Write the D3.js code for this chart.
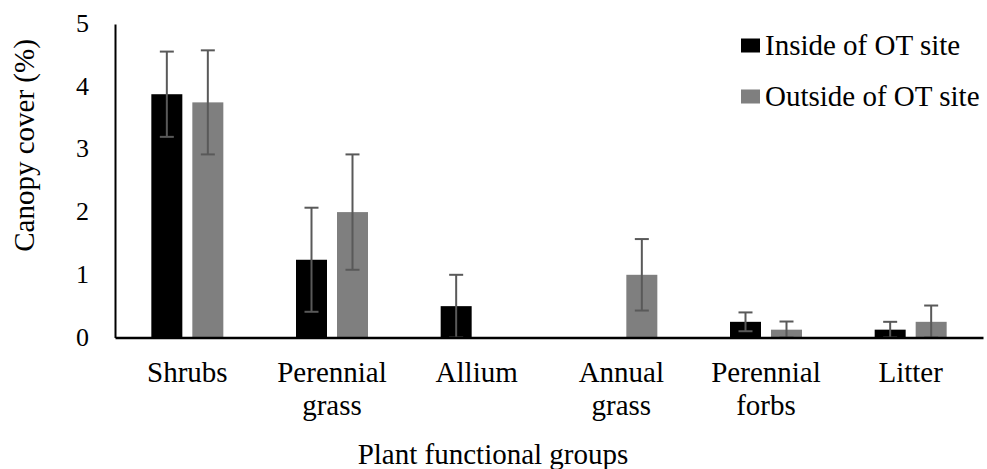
<!DOCTYPE html>
<html>
<head>
<meta charset="utf-8">
<script src="https://cdn.jsdelivr.net/npm/d3@7"></script>
<style>
  html, body { margin: 0; padding: 0; background: #fff; }
  #wrap { position: relative; width: 987px; height: 469px; overflow: hidden; }
  #chart { position: absolute; left: 0; top: 0; display: block; }
  #wrap div.lbl { position: absolute; color: #000; line-height: 1; white-space: nowrap;
                  font-family: 'Liberation Serif' !important; }
</style>
</head>
<body>
<div id="wrap"><svg id="chart" width="987" height="469"></svg></div>
<script>
const categories = [["Shrubs"], ["Perennial", "grass"], ["Allium"], ["Annual", "grass"], ["Perennial", "forbs"], ["Litter"]];
const seriesNames = ["Inside of OT site", "Outside of OT site"];
const insideValues = [3.88, 1.24, 0.5, 0, 0.25, 0.125];
const outsideValues = [3.75, 2.0, 0, 1.0, 0.125, 0.25];
const insideErrors = [0.68, 0.83, 0.5, 0, 0.15, 0.125];
const outsideErrors = [0.83, 0.92, 0, 0.57, 0.13, 0.26];
const yTicks = [0, 1, 2, 3, 4, 5];
const yTitle = "Canopy cover (%)";
const xTitle = "Plant functional groups";

const colors = ["#000000", "#7f7f7f"];
const errColor = "#595959";
const FONT = "'Liberation Serif'";

const svg = d3.select("#chart");
const wrap = d3.select("#wrap");
const mLeft = 115, mRight = 983, mTop = 24, mBottom = 337.5;

const catKeys = categories.map(c => c.join(" "));
const x0 = d3.scaleBand().domain(catKeys).range([mLeft, mRight]).padding(0);
const groupW = 72;
const x1 = d3.scaleBand().domain(seriesNames).range([0, groupW]).paddingInner(0.244).paddingOuter(0);
const y = d3.scaleLinear().domain([0, 5]).range([mBottom, mTop]);

const rows = [];
catKeys.forEach((k, i) => {
  rows.push({cat: k, s: seriesNames[0], v: insideValues[i], e: insideErrors[i], c: colors[0]});
  rows.push({cat: k, s: seriesNames[1], v: outsideValues[i], e: outsideErrors[i], c: colors[1]});
});
const bx = d => x0(d.cat) + x0.bandwidth() / 2 - groupW / 2 + x1(d.s);

// bars
svg.append("g").selectAll("rect").data(rows.filter(d => d.v > 0)).join("rect")
  .attr("x", d => bx(d))
  .attr("y", d => y(d.v))
  .attr("width", x1.bandwidth())
  .attr("height", d => y(0) - y(d.v))
  .attr("fill", d => d.c);

// error bars
const eg = svg.append("g").attr("stroke", errColor).attr("stroke-width", 2);
const er = rows.filter(d => d.e > 0);
const cx = d => bx(d) + x1.bandwidth() / 2;
eg.selectAll("line.v").data(er).join("line").attr("class", "v")
  .attr("x1", cx).attr("x2", cx)
  .attr("y1", d => y(d.v + d.e)).attr("y2", d => y(Math.max(0, d.v - d.e)));
eg.selectAll("line.t").data(er).join("line").attr("class", "t")
  .attr("x1", d => cx(d) - 7).attr("x2", d => cx(d) + 7)
  .attr("y1", d => y(d.v + d.e)).attr("y2", d => y(d.v + d.e));
eg.selectAll("line.b").data(er).join("line").attr("class", "b")
  .attr("x1", d => cx(d) - 7).attr("x2", d => cx(d) + 7)
  .attr("y1", d => y(Math.max(0, d.v - d.e))).attr("y2", d => y(Math.max(0, d.v - d.e)));

// axes
const yAxis = d3.axisLeft(y).tickValues(yTicks).tickSize(0).tickFormat("");
const ya = svg.append("g").attr("transform", `translate(${mLeft},0)`).call(yAxis);
ya.select(".domain").attr("stroke", "#000").attr("stroke-width", 2);

const xAxis = d3.axisBottom(x0).tickSize(0).tickFormat("");
const xa = svg.append("g").attr("transform", `translate(0,${mBottom})`).call(xAxis);
xa.select(".domain").attr("stroke", "#000").attr("stroke-width", 2.5);

const ASC = 0.8375;
function addText(str, x, baseline, fs, anchor) {
  const tx = anchor === "middle" ? "-50%" : anchor === "end" ? "-100%" : "0";
  return wrap.append("div").attr("class", "lbl")
    .style("font-family", FONT, "important")
    .style("font-size", fs + "px")
    .style("left", x + "px")
    .style("top", (baseline - ASC * fs) + "px")
    .style("transform", `translateX(${tx})`)
    .text(str);
}

// y tick labels
const tickFs = 26;
yTicks.forEach(v => addText(d3.format("d")(v), 89, y(v) + 0.338 * tickFs, tickFs, "end"));

// category labels
const catFs = 29;
categories.forEach((lines, i) => {
  const cxp = x0(catKeys[i]) + x0.bandwidth() / 2;
  lines.forEach((ln, j) => addText(ln, cxp, 382.5 + j * 32.5, catFs, "middle"));
});

// axis titles
addText(xTitle, 493, 464, 29, "middle");
wrap.append("div").attr("class", "lbl")
  .style("font-family", FONT, "important")
  .style("font-size", "29px")
  .style("width", "300px").style("text-align", "center")
  .style("left", (24 - 150) + "px").style("top", (145 - 14.5) + "px")
  .style("transform", "rotate(-90deg)").style("transform-origin", "150px 14.5px")
  .text(yTitle);

// legend
const legFs = 29;
seriesNames.forEach((s, i) => {
  const base = 55 + i * 51;
  svg.append("rect").attr("x", 741).attr("y", base - 16.5).attr("width", 19).attr("height", 14).attr("fill", colors[i]);
  addText(s, 765, base, legFs, "start");
});
</script>
</body>
</html>
